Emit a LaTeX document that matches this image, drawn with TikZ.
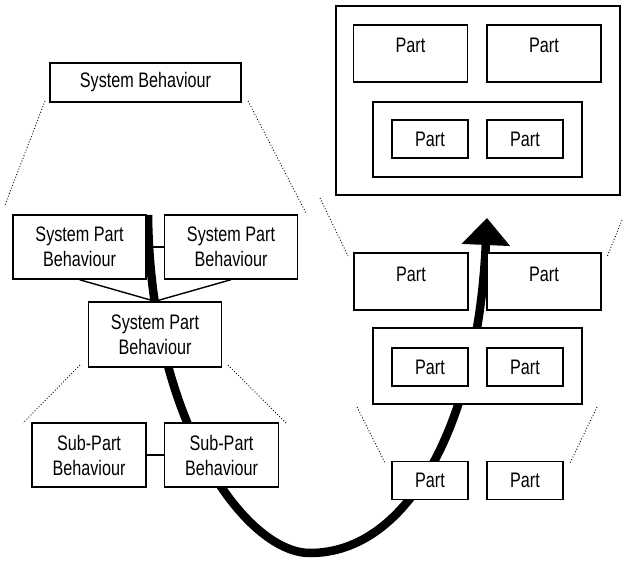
\documentclass[tikz,border=0pt]{standalone}
\usepackage{fontspec}
\setmainfont{Liberation Sans}[FakeStretch=0.77]
\usetikzlibrary{arrows.meta}

\begin{document}
\begin{tikzpicture}[x=1pt,y=-1pt,
    box/.style={draw, fill=white, line width=1.4pt, inner sep=0pt,
      font=\fontsize{21}{25}\selectfont},
  behbox/.style={box, align=center, minimum width=133pt, minimum height=64pt},
  subbox/.style={box, align=center, minimum width=114pt, minimum height=64pt},
  partbox/.style={box, minimum width=114pt, text height=28pt, text depth=29pt},
  smallpart/.style={box, minimum width=76pt, minimum height=38pt},
  groupbox/.style={box, minimum width=209pt, minimum height=76pt},
  guide/.style={dotted, line width=0.9pt},
  flow/.style={line width=8.5pt, -{Triangle[width=47pt,length=27pt]}},
  ]
\useasboundingbox (0,0) rectangle (623,561);

% the thick arrow goes behind the boxes
\coordinate (flowstart) at (148,215);
\coordinate (flowlow) at (310,553);
\coordinate (flowend) at (487,218);
\draw[flow] (flowstart) .. controls (150,420) and (245,553) .. (flowlow)
  .. controls (410,553) and (478,420) .. (flowend);

% behaviour side
\node[box, minimum width=191pt, minimum height=39pt] (sysbeh) at (145.5,82.5) {System Behaviour};
\node[behbox] (partbehA) at (79.5,247) {System Part\\Behaviour};
\node[behbox] (partbehB) at (231,247) {System Part\\Behaviour};
\node[behbox, minimum height=65pt] (partbehC) at (155,334.5) {System Part\\Behaviour};
\node[subbox] (subbehA) at (89,455) {Sub-Part\\Behaviour};
\node[subbox] (subbehB) at (221.5,455) {Sub-Part\\Behaviour};

\draw[line width=1.4pt] (partbehA) -- (partbehB);
\draw[line width=1.4pt] (partbehA.south) -- (partbehC.north);
\draw[line width=1.4pt] (partbehB.south) -- (partbehC.north);
\draw[line width=1.4pt] (subbehA) -- (subbehB);

% part side
\node[box, line width=1.7pt, minimum width=284pt, minimum height=189pt] (whole) at (478,100.5) {};
\node[partbox] (wholeA) at (410.5,53.5) {Part};
\node[partbox] (wholeB) at (544,53.5) {Part};
\node[groupbox, minimum height=75pt] (wholegroup) at (477.5,139.5) {};
\node[smallpart] (wholeC) at (430,139) {Part};
\node[smallpart] (wholeD) at (525,139) {Part};

\node[partbox] (partA) at (411,281.5) {Part};
\node[partbox] (partB) at (544,281.5) {Part};
\node[groupbox] (group) at (477.5,366) {};
\node[smallpart] (partC) at (430,367) {Part};
\node[smallpart] (partD) at (525,367) {Part};
\node[smallpart] (partE) at (430,480.5) {Part};
\node[smallpart] (partF) at (525,480.5) {Part};

% dotted guides
\draw[guide] (45,101) -- (5,205);
\draw[guide] (248,101) -- (306,213);
\draw[guide] (80,365) -- (23,423);
\draw[guide] (228,365) -- (286,423);
\draw[guide] (320,198) -- (348,256);
\draw[guide] (622,220) -- (607,257);
\draw[guide] (357,407) -- (385,463);
\draw[guide] (597,407) -- (570,463);

\end{tikzpicture}
\end{document}
